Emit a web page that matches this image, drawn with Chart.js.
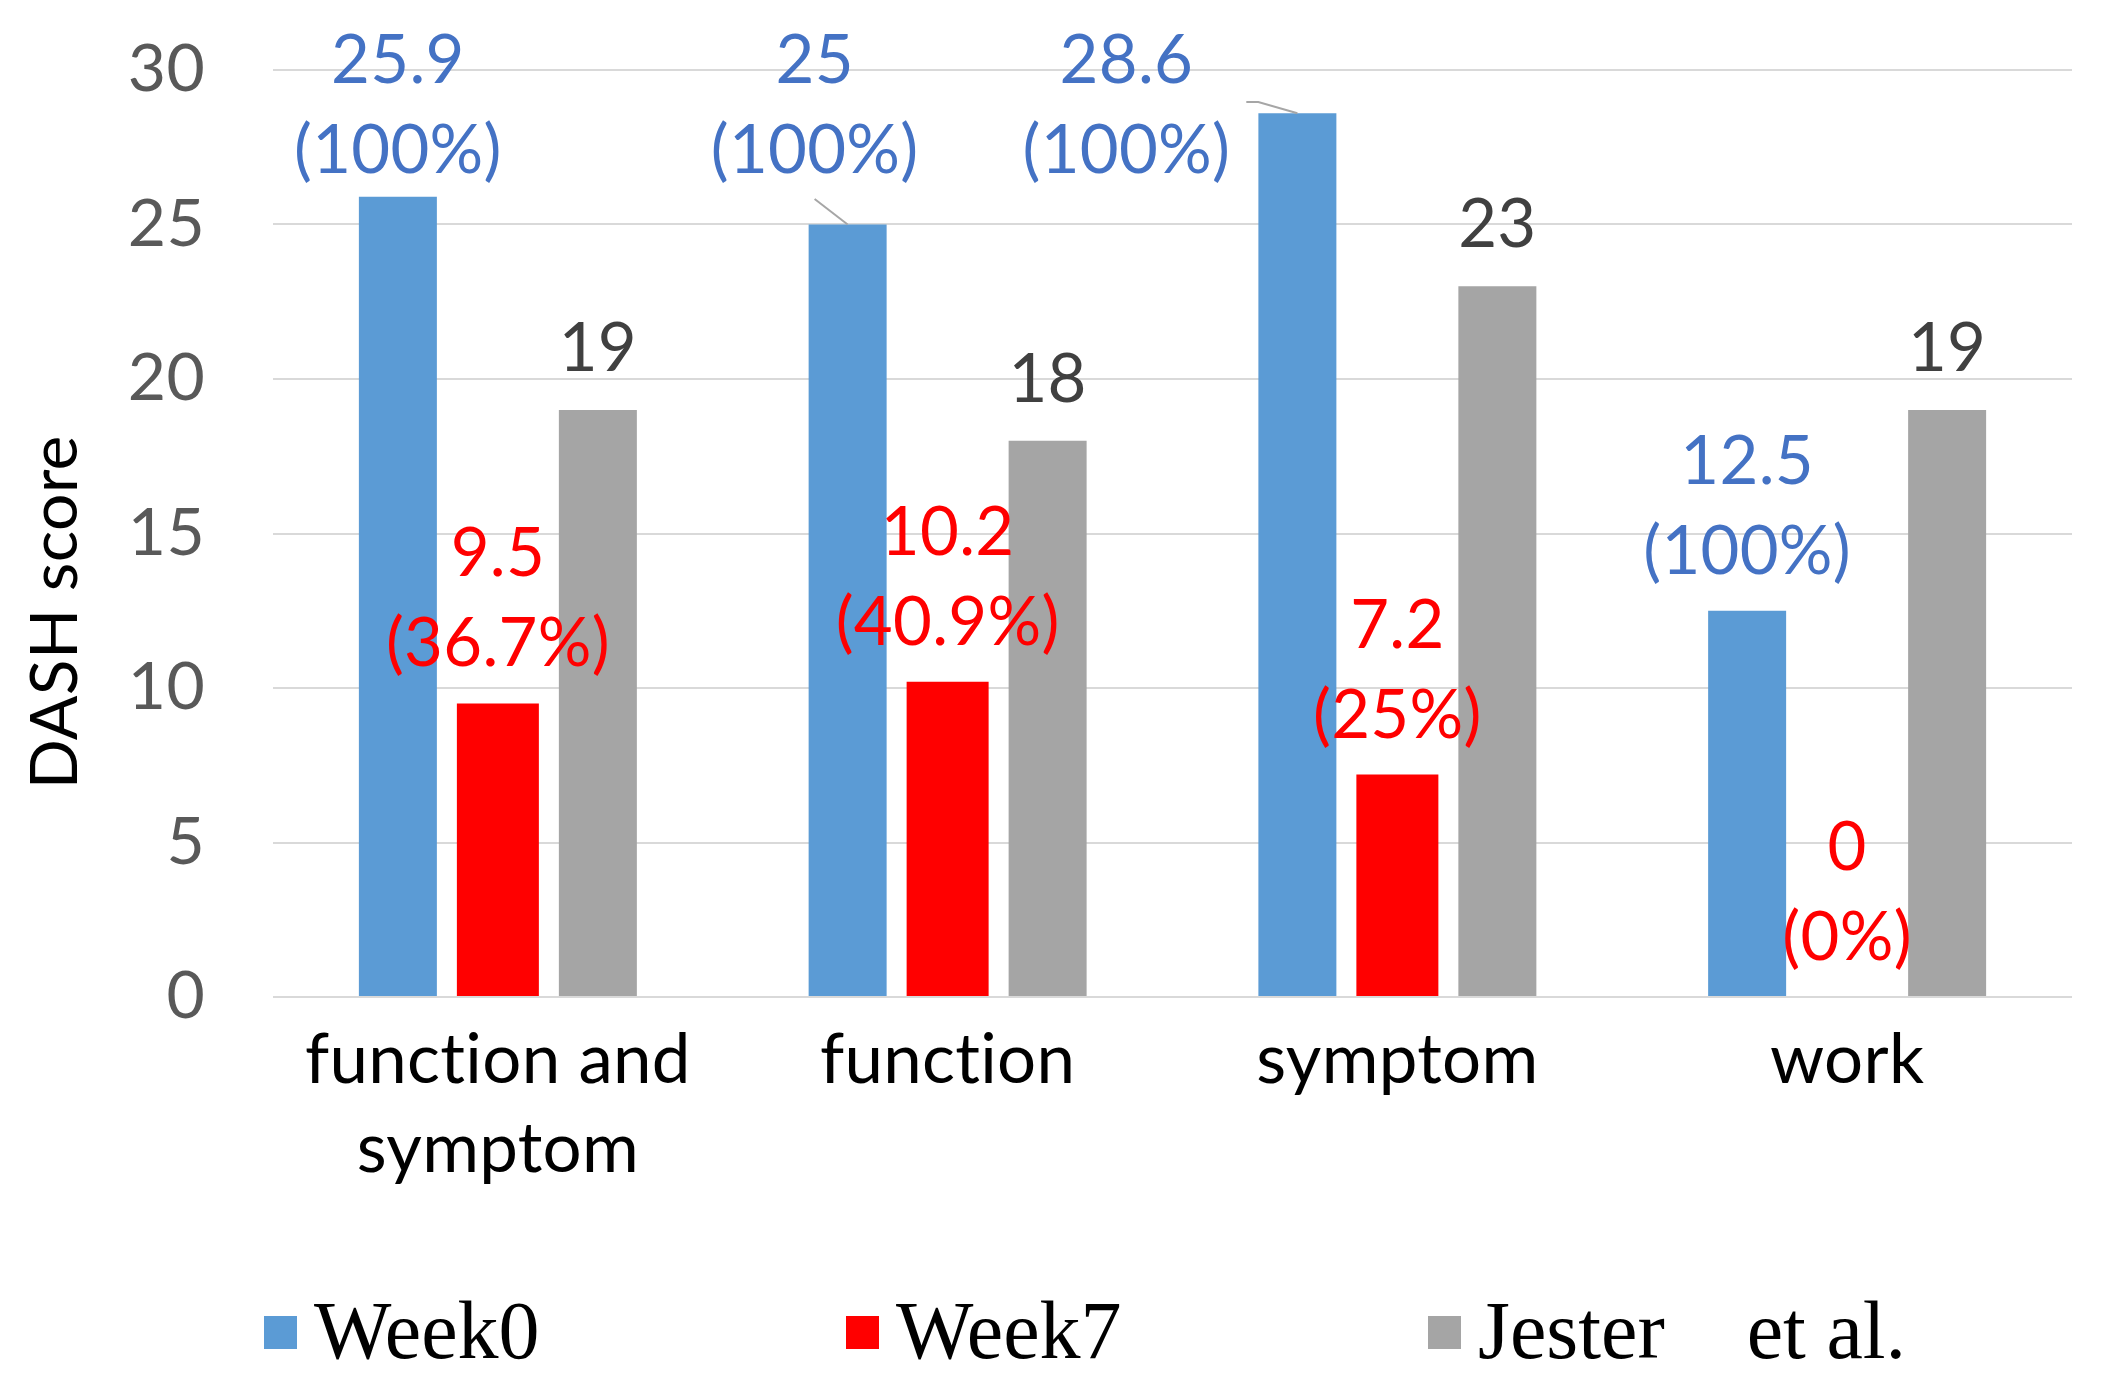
<!DOCTYPE html>
<html>
<head>
<meta charset="utf-8">
<title>DASH score</title>
<script src="https://cdn.jsdelivr.net/npm/chart.js@4.4.1/dist/chart.umd.min.js"></script>
<style>
  html, body { margin: 0; padding: 0; background: #fff; }
  canvas { display: block; }
</style>
</head>
<body>
<canvas id="graficoDash" width="2117" height="1387"></canvas>
<script>
// dati
const categories = [['function and', 'symptom'], 'function', 'symptom', 'work'];
const week0 = [25.9, 25, 28.6, 12.5];
const week0Pct = [100, 100, 100, 100];
const week7 = [9.5, 10.2, 7.2, 0];
const week7Pct = [36.7, 40.9, 25, 0];
const jester = [19, 18, 23, 19];
const yMin = 0, yMax = 30, yStep = 5;

const seriesNames = ['Week0', 'Week7', 'Jester    et al.'];

// niente legature (Lato unisce "ti")
const noLigatures = {
  id: 'noLigatures',
  beforeDraw(chart) {
    chart.ctx.letterSpacing = '0.3px';
  }
};

// etichette sopra le barre (valore + percentuale)
const barLabels = {
  id: 'barLabels',
  afterDatasetsDraw(chart) {
    const ctx = chart.ctx;
    const area = chart.chartArea;
    const minBase = area.top + 103;
    ctx.save();
    ctx.font = '67px Lato';
    ctx.textAlign = 'center';
    ctx.textBaseline = 'alphabetic';
    chart.data.datasets.forEach((ds, i) => {
      const meta = chart.getDatasetMeta(i);
      meta.data.forEach((bar, j) => {
        const dx = (ds.labelShift || [])[j] || 0;
        const lift = (ds.labelLift || [])[j] || 0;
        const x = bar.x + dx;
        ctx.fillStyle = ds.labelColor;
        if (ds.pct) {
          const base = Math.max(bar.y - 37 - lift, minBase);
          const pctText = '(' + ds.pct[j] + '%)';
          ctx.fillText(String(ds.data[j]), x, base - 90);
          ctx.fillText(pctText, x, base);
          if ((ds.leader || [])[j]) {
            ctx.strokeStyle = '#a6a6a6';
            ctx.lineWidth = 2;
            ctx.beginPath();
            if (bar.y > base) {
              ctx.moveTo(x, base + 26);
              ctx.lineTo(bar.x, bar.y);
            } else {
              const right = x + ctx.measureText(pctText).width / 2;
              ctx.moveTo(right + 16, base - 71);
              ctx.lineTo(right + 28, base - 71);
              ctx.lineTo(bar.x, bar.y);
            }
            ctx.stroke();
          }
        } else {
          ctx.fillText(String(ds.data[j]), x, bar.y - 39);
        }
      });
    });
    ctx.restore();
  }
};

// titolo asse y e legenda disegnati a mano
const extraText = {
  id: 'extraText',
  afterDraw(chart) {
    const ctx = chart.ctx;
    const area = chart.chartArea;
    ctx.save();
    ctx.fillStyle = '#000';
    ctx.font = '66px Lato';
    ctx.textAlign = 'center';
    ctx.textBaseline = 'alphabetic';
    ctx.translate(area.left - 196, area.top + 0.585 * (area.bottom - area.top));
    ctx.rotate(-Math.PI / 2);
    ctx.fillText('DASH score', 0, 0);
    ctx.restore();

    ctx.save();
    ctx.letterSpacing = '0px';
    ctx.font = '82px "Liberation Serif"';
    ctx.textBaseline = 'alphabetic';
    ctx.textAlign = 'left';
    const legendY = 1332;
    chart.data.datasets.forEach((ds, i) => {
      const bx = area.left - 9 + i * 582;
      ctx.fillStyle = ds.backgroundColor;
      ctx.fillRect(bx, legendY - 16, 33, 33);
      ctx.fillStyle = '#000';
      ctx.fillText(ds.label, bx + 50, legendY + 26);
    });
    ctx.restore();
  }
};

Chart.defaults.font.family = 'Lato';

const dashChart = new Chart(document.getElementById('graficoDash'), {
  type: 'bar',
  data: {
    labels: categories,
    datasets: [{
      label: seriesNames[0],
      data: week0,
      pct: week0Pct,
      backgroundColor: '#5B9BD5',
      labelColor: '#4472C4',
      labelShift: [0, -33, -171, 0],
      labelLift: [0, 16, 0, 0],
      leader: [false, true, true, false],
      barPercentage: 0.78
    }, {
      label: seriesNames[1],
      data: week7,
      pct: week7Pct,
      backgroundColor: '#FF0000',
      labelColor: '#FF0000',
      barPercentage: 0.82
    }, {
      label: seriesNames[2],
      data: jester,
      backgroundColor: '#A5A5A5',
      labelColor: '#404040',
      barPercentage: 0.78
    }]
  },
  options: {
    responsive: false,
    animation: false,
    devicePixelRatio: 1,
    layout: { padding: { top: 70, right: 45, bottom: 190, left: 0 } },
    datasets: { bar: { categoryPercentage: 0.667 } },
    plugins: {
      legend: { display: false },
      tooltip: { enabled: false }
    },
    scales: {
      x: {
        grid: { display: false },
        border: { display: false },
        ticks: {
          color: '#000',
          font: { size: 69, lineHeight: 1.28 },
          padding: 12,
          maxRotation: 0,
          autoSkip: false
        },
        afterFit(scale) { scale.height = 200; }
      },
      y: {
        min: yMin,
        max: yMax,
        // tacche invisibili: servono solo a staccare le etichette dalla griglia
        grid: { color: '#d9d9d9', lineWidth: 2, drawTicks: true, tickLength: 68, tickColor: 'rgba(0,0,0,0)' },
        border: { display: false },
        ticks: {
          stepSize: yStep,
          color: '#595959',
          font: { size: 66 },
          padding: 0
        },
        afterFit(scale) { scale.width = 273; }
      }
    }
  },
  plugins: [noLigatures, barLabels, extraText]
});
</script>
</body>
</html>
